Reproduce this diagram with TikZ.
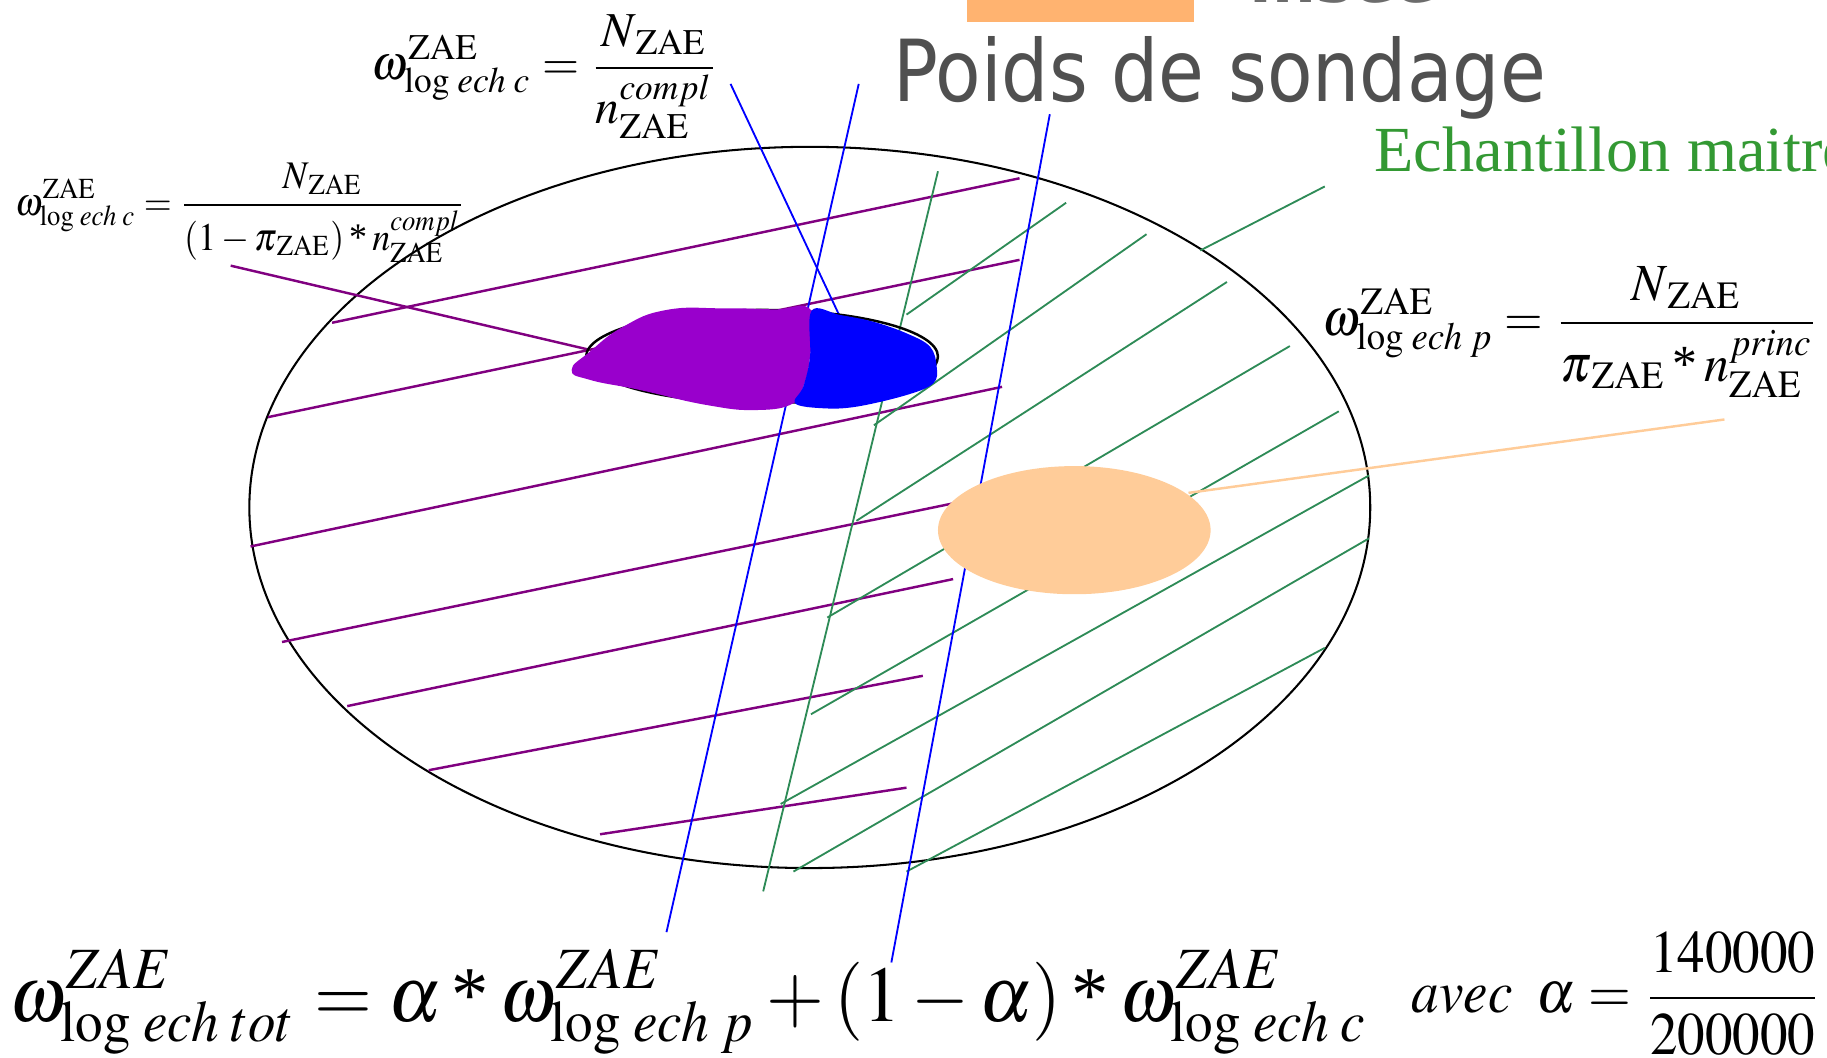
\documentclass[tikz,border=0pt]{standalone}
\usepackage{mathptmx}
\usepackage{fontspec}
\setmainfont{Liberation Serif}
\newfontfamily\titlefont{DejaVu Sans}
\usetikzlibrary{positioning}

\definecolor{hatchpurple}{RGB}{128,0,128}
\definecolor{hatchgreen}{RGB}{46,139,87}
\definecolor{blobpurple}{RGB}{153,0,204}
\definecolor{peach}{RGB}{255,204,153}
\definecolor{titlegray}{RGB}{80,80,80}
\definecolor{echgreen}{RGB}{51,153,51}
\definecolor{logoorange}{RGB}{255,179,112}

\tikzset{
  purpleline/.style={hatchpurple, line width=0.6pt},
  blueline/.style={blue, line width=0.45pt},
  greenline/.style={hatchgreen, line width=0.45pt},
  formula/.style={anchor=north west, inner sep=0pt, outer sep=0pt}
}

\begin{document}
\begin{tikzpicture}[x=0.1mm, y=-0.1mm]
  \useasboundingbox (0,0) rectangle (1568,908);
  % cut-off header
  \fill[logoorange] (830,-10) rectangle (1025,18.9);
  \node[anchor=base west, inner sep=0pt, text=gray!85!black,
        font=\titlefont\bfseries\fontsize{15}{18}\selectfont] (insee) at (1072,2.5) {Insee};
  % sampling frame
  \draw[line width=0.5pt] (695,435.5) ellipse (481 and 309.5);
  % complementary sample
  \draw[purpleline] (285,277) -- (875,153);
  \draw[purpleline] (230,358) -- (875,223);
  \draw[purpleline] (215,469) -- (860,332);
  \draw[purpleline] (242,551) -- (818,432);
  \draw[purpleline] (298,606) -- (818,497);
  \draw[purpleline] (368,661) -- (792,580);
  \draw[purpleline] (515,716) -- (778,676);
  % master sample
  \draw[greenline] (655,765) -- (805,147);
  \draw[greenline] (778,270) -- (915,174);
  \draw[greenline] (750,365) -- (984,201);
  \draw[greenline] (735,447) -- (1053,242);
  \draw[greenline] (710,530) -- (1107,297);
  \draw[greenline] (696,613) -- (1149,353);
  \draw[greenline] (670,690) -- (1175,408);
  \draw[greenline] (681,748) -- (1175,462);
  \draw[greenline] (778,748) -- (1137,556);
  % principal sample
  \draw[blueline] (572,800) -- (737,72);
  \draw[blueline] (765,826) -- (901,98);
  % texts
  \node[anchor=base west, inner sep=0pt, text=titlegray] (poids) at (766,87.3)
    {\scalebox{0.87}[1]{\titlefont\fontsize{20.9}{25}\selectfont Poids de sondage}};
  \node[anchor=base west, inner sep=0pt, text=echgreen,
        font=\fontsize{15.7}{19}\selectfont] (echm) at (1179,146.8) {Echantillon maitre};
  \node[formula] (wctop) at (319,13)
    {\resizebox*{29.75mm}{10.6mm}{$\displaystyle \omega^{\mathrm{ZAE}}_{\log\,ech\;c}=\frac{N_{\,\mathrm{ZAE}}}{n^{compl}_{\mathrm{ZAE}}}$}};
  \node[formula] (wcleft) at (13,140)
    {\resizebox*{38.6mm}{8.5mm}{$\displaystyle \omega^{\mathrm{ZAE}}_{\log\,ech\;c}=\frac{N_{\,\mathrm{ZAE}}}{(1-\pi_{\,\mathrm{ZAE}})\mathbin{\mbox{*}}n^{compl}_{\mathrm{ZAE}}}$}};
  \node[formula] (wp) at (1135,229)
    {\resizebox*{42.6mm}{11.2mm}{$\displaystyle \omega^{\mathrm{ZAE}}_{\log\,ech\;p}=\frac{N_{\,\mathrm{ZAE}}}{\pi_{\,\mathrm{ZAE}}\mathbin{\mbox{*}}n^{princ}_{\mathrm{ZAE}}}$}};
  \node[formula] (wtot) at (8,815)
    {\resizebox*{116.7mm}{9.0mm}{$\displaystyle \omega^{ZAE}_{\log\,ech\;tot}=\alpha\mathbin{\mbox{*}}\omega^{ZAE}_{\log\,ech\;p}+(1-\alpha)\mathbin{\mbox{*}}\omega^{ZAE}_{\log\,ech\;c}$}};
  \node[formula] (alpha) at (1211.5,799.6)
    {\resizebox*{35.2mm}{10.6mm}{$\displaystyle avec\;\;\alpha=\frac{140000}{200000}$}};
  % leaders
  \coordinate (lefttail) at (198,228);
  \coordinate (purplehead) at (505,300);
  \coordinate (toptail) at (627,72);
  \coordinate (bluehead) at (720,270);
  \coordinate (echtail) at (1137,160);
  \coordinate (echhead) at (1030,215);
  \coordinate (ptail) at (1480,360);
  \coordinate (peachhead) at (1020,423);
  \draw[purpleline] (lefttail) -- (purplehead);
  \draw[blueline] (toptail) -- (bluehead);
  \draw[greenline] (echtail) -- (echhead);
  % zone ZAE
  \draw[line width=0.6pt] (654,306) ellipse (151 and 40);
  \fill[blobpurple] plot[smooth cycle, tension=0.8] coordinates {
    (490.6,317.5) (506.3,301.8) (535,280.3) (572.1,266) (620.8,264.6)
    (663.7,265.5) (696.6,266.6) (695.2,306.1) (689.4,331.8) (680.8,346.2)
    (649.4,351.9) (606.5,347.6) (549.3,334.7) (506.3,326)};
  \fill[blue] plot[smooth cycle, tension=0.6] coordinates {
    (696.6,266.6) (720.9,270.3) (749.5,276.1) (778.1,286.1) (798.2,297.5)
    (803.9,314.7) (801,329) (778.1,339) (735.2,349) (706.6,350.4)
    (682.3,346.1) (689.4,331.8) (695.2,306.1)};
  % other zone
  \fill[peach] (922,455) ellipse (117 and 55);
  \draw[peach, line width=0.6pt] (peachhead) -- (ptail);
\end{tikzpicture}
\end{document}
